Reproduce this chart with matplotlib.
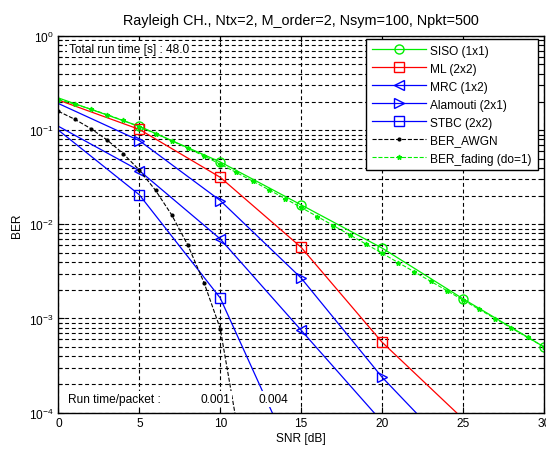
import numpy as np
import matplotlib
matplotlib.use('Agg')
import matplotlib.pyplot as plt
from matplotlib.ticker import LogLocator, NullFormatter

plt.rcParams['font.family'] = ['Liberation Sans', 'DejaVu Sans']
plt.rcParams['font.size'] = 8.6

GREEN = '#00ee00'

# simulated curves, SNR 0:5:30 dB (nan = no errors counted)
snr_sim = [0, 5, 10, 15, 20, 25, 30]
ber_siso = [0.22, 0.11, 0.046, 0.0161, 0.0056, 0.00162, 0.0005]
ber_ml = [0.209, 0.102, 0.0316, 0.0057, 0.00056, 0.000086, np.nan]
ber_mrc = [0.110, 0.0372, 0.0070, 0.00075, 0.00008, np.nan, np.nan]
ber_alamouti = [0.192, 0.0775, 0.0179, 0.00269, 0.000238, 0.00003, np.nan]
ber_stbc = [0.100, 0.0206, 0.00165, 0.000021, np.nan, np.nan, np.nan]

# analytic curves, 1 dB steps
snr_awgn = [0, 1, 2, 3, 4, 5, 6, 7, 8, 9, 10, 11, 12]
ber_awgn = [0.1587, 0.1309, 0.1040, 0.0789, 0.0565, 0.0377, 0.0230,
            0.0126, 0.0060, 0.0024, 0.00078, 0.00008, 0.00001]
snr_fad = list(range(31))
ber_fad = [0.21132, 0.18923, 0.16754, 0.14666, 0.12693, 0.10867, 0.09208,
           0.07728, 0.06431, 0.05311, 0.04356, 0.03553, 0.02885, 0.02332,
           0.01879, 0.01510, 0.01210, 0.00969, 0.00774, 0.00618, 0.00493,
           0.003925, 0.003125, 0.002485, 0.00198, 0.00157, 0.00125,
           0.000994, 0.00079, 0.000628, 0.000499]

total_time = 48.0
packet_times = [0.001, 0.004]

fig = plt.figure(figsize=(5.46, 4.52), dpi=100)
ax = fig.add_axes([0.107, 0.085, 0.889, 0.833])

every = slice(1, None)
ax.semilogy(snr_sim, ber_siso, '-o', color=GREEN, lw=0.9, ms=6.5,
            mfc='none', markevery=every, label='SISO (1x1)')
ax.semilogy(snr_sim, ber_ml, '-s', color='red', lw=0.9, ms=7,
            mfc='none', markevery=every, label='ML (2x2)')
ax.semilogy(snr_sim, ber_mrc, '-<', color='blue', lw=0.9, ms=7,
            mfc='none', markevery=every, label='MRC (1x2)')
ax.semilogy(snr_sim, ber_alamouti, '->', color='blue', lw=0.9, ms=7,
            mfc='none', markevery=every, label='Alamouti (2x1)')
ax.semilogy(snr_sim, ber_stbc, '-s', color='blue', lw=0.9, ms=7,
            mfc='none', markevery=every, label='STBC (2x2)')
ax.semilogy(snr_awgn, ber_awgn, '--.', color='black', lw=0.8, ms=4,
            label='BER_AWGN')
ax.semilogy(snr_fad, ber_fad, '--*', color=GREEN, lw=0.8, ms=3.5,
            label='BER_fading (do=1)')

ax.set_xlim(0, 30)
ax.set_ylim(1e-4, 1)
ax.set_xticks(range(0, 31, 5))
ax.yaxis.set_major_locator(LogLocator(base=10, numticks=10))
ax.yaxis.set_minor_locator(LogLocator(base=10, subs=np.arange(2, 10), numticks=10))
ax.yaxis.set_minor_formatter(NullFormatter())

grid_kw = dict(color='black', linestyle=(0, (3.5, 2.5)), linewidth=0.8)
ax.grid(True, which='major', axis='both', **grid_kw)
ax.grid(True, which='minor', axis='y', **grid_kw)
ax.set_axisbelow(True)

ax.tick_params(which='both', direction='in', top=True, right=True, width=0.8)
ax.tick_params(which='major', length=4)
ax.tick_params(which='minor', length=3)
for s in ax.spines.values():
    s.set_linewidth(1.0)

ax.set_xlabel('SNR [dB]', labelpad=2)
ax.set_ylabel('BER', labelpad=4)
ax.set_title('Rayleigh CH., Ntx=2, M_order=2, Nsym=100, Npkt=500', pad=9)

box = dict(facecolor='white', edgecolor='none', pad=1.5)
ax.text(0.022, 0.965, 'Total run time [s] : %.1f' % total_time,
        transform=ax.transAxes, va='center', ha='left', bbox=box)
ax.text(0.02, 0.037, 'Run time/packet :', transform=ax.transAxes,
        va='center', ha='left', bbox=box)
ax.text(0.292, 0.037, '%.3f' % packet_times[0], transform=ax.transAxes,
        va='center', ha='left', bbox=box)
ax.text(0.412, 0.037, '%.3f' % packet_times[1], transform=ax.transAxes,
        va='center', ha='left', bbox=box)

leg = ax.legend(loc='upper right', bbox_to_anchor=(0.987, 0.993),
                borderaxespad=0, numpoints=1, handlelength=4.6,
                handletextpad=0.3, labelspacing=0.5, borderpad=0.5,
                fancybox=False, framealpha=1)
leg.get_frame().set_edgecolor('black')
leg.get_frame().set_linewidth(1.0)

fig.savefig('out.png', dpi=100)
